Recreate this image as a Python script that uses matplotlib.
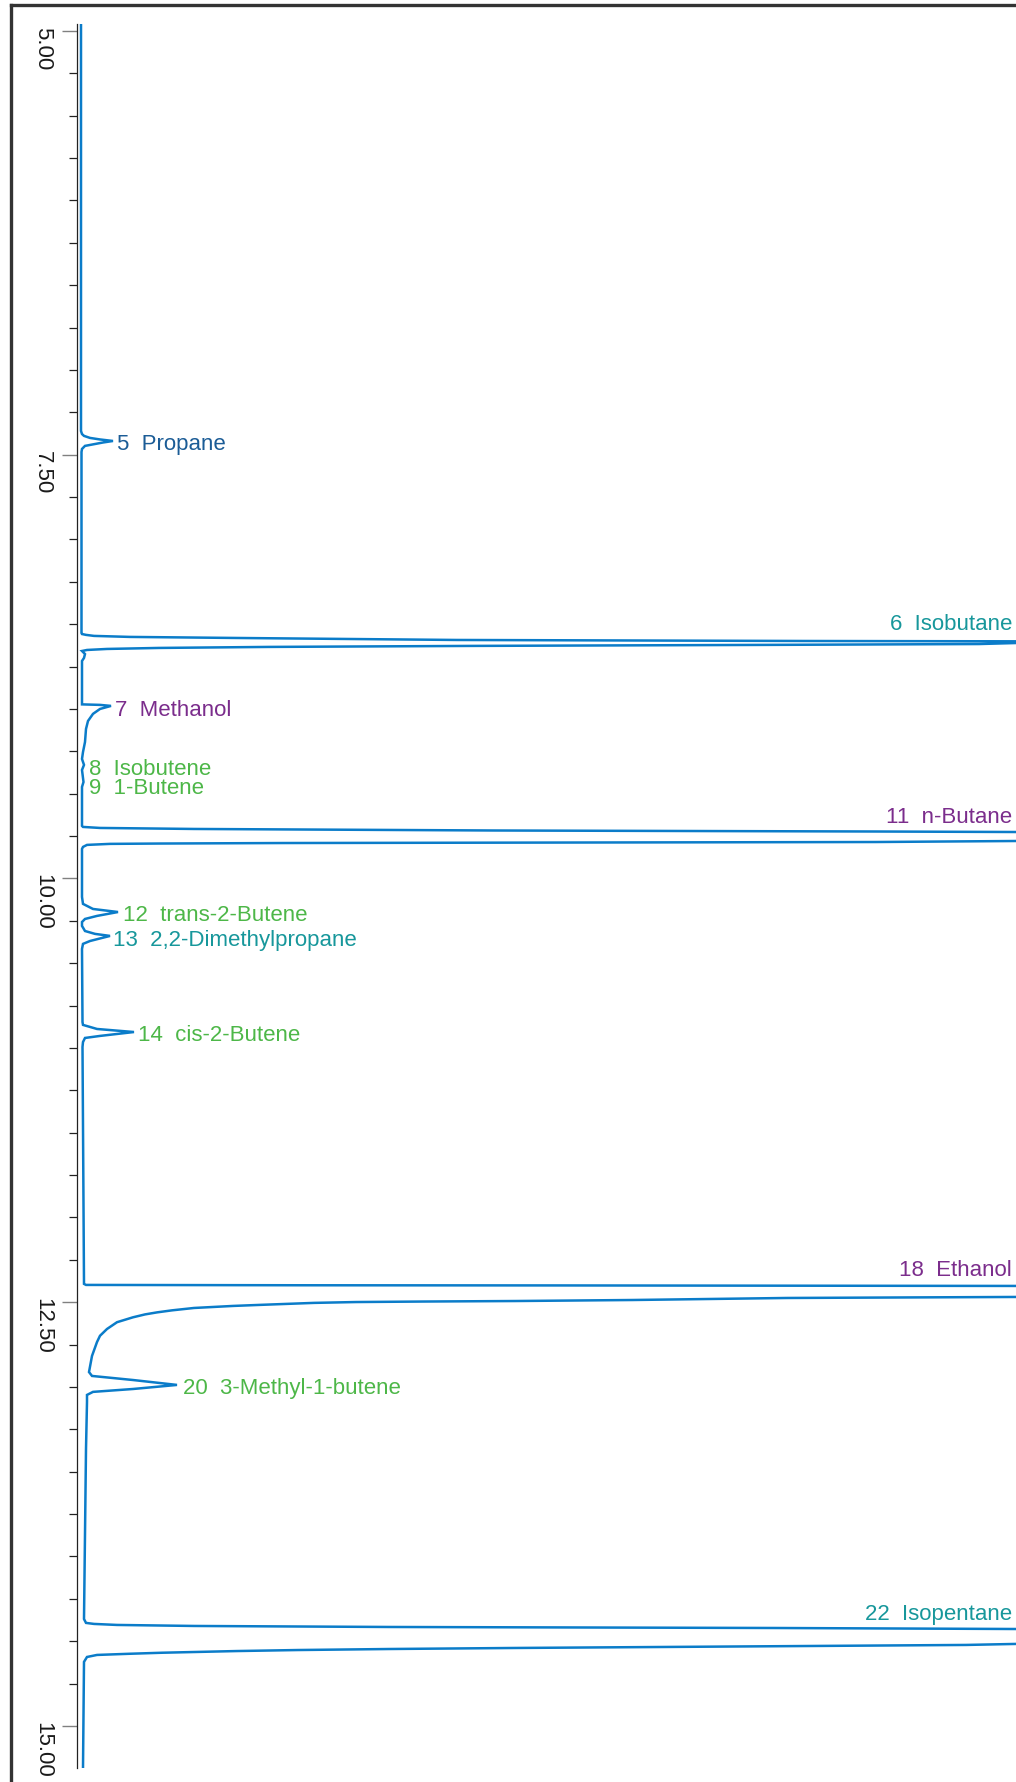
import matplotlib
matplotlib.use("Agg")
import matplotlib.pyplot as plt
from matplotlib.lines import Line2D
from matplotlib.ticker import MultipleLocator

plt.rcParams['font.family'] = ['Liberation Sans', 'DejaVu Sans']

# chromatogram trace: retention time (min) vs detector response (arb. units)
# big peaks run far off scale, their apex points sit outside the plotted range
time_min = [
    4.959, 7.360, 7.378, 7.389, 7.401, 7.410, 7.419, 7.428, 7.437, 7.448, 7.466, 7.484,
    8.552, 8.558, 8.563, 8.569, 8.575, 8.581, 8.593, 8.599, 8.601, 8.607,
    8.611, 8.617, 8.622, 8.628, 8.634, 8.640, 8.646, 8.652, 8.658, 8.676, 8.699, 8.717,
    8.973, 8.976, 8.982, 9.000, 9.029, 9.071, 9.118, 9.195, 9.254, 9.295,
    9.330, 9.360, 9.431, 9.460, 9.690,
    9.696, 9.702, 9.708, 9.717, 9.723, 9.726, 9.752,
    9.779, 9.785, 9.788, 9.791, 9.794, 9.796, 9.802, 9.814, 9.826,
    10.109, 10.150, 10.180, 10.198, 10.221, 10.239, 10.257, 10.280,
    10.310, 10.327, 10.339, 10.369, 10.386, 10.416,
    10.847, 10.864, 10.888, 10.906, 10.929, 10.941, 10.965, 10.994,
    12.392, 12.398, 12.400, 12.401, 12.404, 12.436,
    12.469, 12.472, 12.475, 12.487, 12.493, 12.496, 12.499, 12.504, 12.510, 12.516,
    12.522, 12.534, 12.548, 12.560, 12.572, 12.589, 12.618, 12.658, 12.698, 12.735, 12.817,
    12.912, 12.935, 12.959, 12.988, 13.012, 13.029, 13.047, 13.088, 13.366,
    14.369, 14.392, 14.398, 14.404, 14.410, 14.416, 14.422, 14.428, 14.472,
    14.516, 14.522, 14.528, 14.534, 14.540, 14.546, 14.552, 14.558, 14.564, 14.568,
    14.574, 14.581, 14.593, 14.622, 15.248,
]
response = [
    4, 4, 5, 7, 13, 23, 36, 26, 18, 8, 5, 4.5,
    4.5, 5, 9, 17, 53, 156, 380, 727, 939, 3000,
    939, 902, 691, 396, 192, 82, 30, 10, 5, 8, 7, 5,
    5, 23, 34, 23, 16, 11, 9, 8, 6, 5,
    7, 5, 6.5, 5, 5,
    6, 23, 117, 416, 798, 939, 3000,
    939, 798, 467, 205, 82, 33, 10, 6, 5,
    5, 6, 16, 41, 20, 8, 5, 5,
    8, 18, 33, 13, 6, 5,
    5.5, 6, 20, 57, 23, 8, 6, 5.5,
    7, 9, 223, 477, 939, 3000,
    939, 823, 710, 555, 438, 347, 279, 237, 208, 182,
    156, 117, 95, 80, 68, 56, 40, 30, 23, 20, 15,
    12, 15, 56, 100, 56, 16, 10, 10, 9,
    7, 9, 17, 40, 117, 312, 698, 939, 3000,
    939, 889, 736, 578, 435, 312, 221, 160, 117, 85,
    53, 20, 10, 7, 6,
]

# peak labels
peak_names = ['5  Propane', '6  Isobutane', '7  Methanol', '8  Isobutene', '9  1-Butene',
              '11  n-Butane', '12  trans-2-Butene', '13  2,2-Dimethylpropane', '14  cis-2-Butene',
              '18  Ethanol', '20  3-Methyl-1-butene', '22  Isopentane']
peak_label_time = [7.419, 8.481, 8.988, 9.336, 9.448, 9.619, 10.198, 10.345, 10.906,
                   12.292, 12.988, 14.322]
peak_label_resp = [40, 935, 38, 12, 12, 935, 46, 36, 61, 935, 106, 935]
peak_colors = ['#1b5c96', '#17979b', '#7b2d8c', '#4db748', '#4db748', '#7b2d8c',
               '#4db748', '#17979b', '#4db748', '#7b2d8c', '#4db748', '#17979b']
offscale = [False, True, False, False, False, True, False, False, False, True, False, True]

major_ticks = [5.0, 7.5, 10.0, 12.5, 15.0]

fig = plt.figure(figsize=(10.16, 17.83), dpi=100)
ax = fig.add_axes([77 / 1016, 14 / 1783, 939 / 1016, 1744 / 1783])

ax.plot(response, time_min, color='#0b7cc9', lw=1.8, solid_joinstyle='miter')

ax.set_xlim(0, 939)
ax.set_ylim(15.248, 4.959)

for side in ['top', 'right', 'bottom']:
    ax.spines[side].set_visible(False)
ax.spines['left'].set_color('#222222')
ax.spines['left'].set_linewidth(0.9)
ax.set_xticks([])

ax.yaxis.set_major_locator(MultipleLocator(2.5))
ax.yaxis.set_minor_locator(MultipleLocator(0.25))
ax.tick_params(axis='y', which='major', length=10.8, width=1.0, color='#808080', labelleft=False)
ax.tick_params(axis='y', which='minor', length=5.8, width=0.9, color='#222222')

# rotated time labels hanging just below each major tick
for t in major_ticks:
    ax.annotate(f'{t:.2f}', xy=(0, t), xycoords=ax.get_yaxis_transform(),
                xytext=(-25, 3.6), textcoords='offset points',
                rotation=-90, ha='center', va='top', fontsize=16, color='#1a1a1a')

for name, t, s, c, big in zip(peak_names, peak_label_time, peak_label_resp, peak_colors, offscale):
    ax.text(s, t, name, color=c, fontsize=16, ha='right' if big else 'left',
            va='center_baseline', clip_on=False)

# dark frame of the original window (left and top edges only are visible)
fig.add_artist(Line2D([11 / 1016, 11 / 1016], [0, 1 - 6 / 1783], transform=fig.transFigure,
                      color='#333333', lw=2.4))
fig.add_artist(Line2D([11 / 1016, 1], [1 - 6 / 1783, 1 - 6 / 1783], transform=fig.transFigure,
                      color='#333333', lw=2.4))

fig.savefig('out.png', dpi=100)
